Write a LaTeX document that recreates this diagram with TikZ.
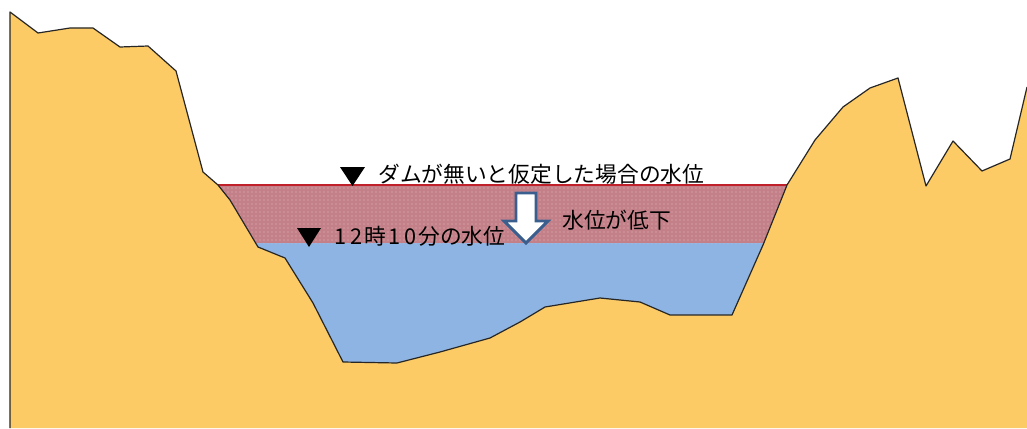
\documentclass[tikz,border=0pt]{standalone}
\usepackage{fontspec}
\newfontfamily\jpfont{Noto Sans CJK JP}
\usetikzlibrary{patterns}
\definecolor{ground}{HTML}{FCCB66}
\definecolor{lake}{HTML}{8DB4E2}
\definecolor{drop}{HTML}{C48088}
\definecolor{rim}{HTML}{C0202A}
\definecolor{arrowblue}{HTML}{3A5F8F}
% digits set on a slightly wider pitch
\newcommand\widedigit[1]{\makebox[0.74em]{#1}}
\begin{document}
\begin{tikzpicture}[x=0.75pt,y=-0.75pt,
  jplabel/.style={font=\jpfont\fontsize{16.3}{19}\selectfont, inner sep=0pt, text=black},
  levelmark/.style={fill=black},
  outline/.style={draw=black!85, line width=0.9pt, line join=round}]
\useasboundingbox (0,0) rectangle (1027,428);
% present reservoir water
\fill[lake] (200,243) rectangle (800,380);
% water lost compared with the no-dam level
\fill[drop] (200,185) rectangle (800,243);
\fill[pattern=dots, pattern color=white!45!drop] (200,185) rectangle (800,243);
\draw[rim, line width=1.4pt] (200,185) -- (800,185);
% valley cross-section
\def\valley{(10,428) -- (10,12) -- (38,33) -- (70,28) -- (93,28) -- (120,47) -- (148,46)
  -- (176,71) -- (203,172) -- (218,185) -- (230,200) -- (258,247) -- (285,258)
  -- (313,303) -- (343,362) -- (397,363) -- (440,352) -- (490,338) -- (520,322)
  -- (545,307) -- (600,298) -- (640,302) -- (670,315) -- (732,315) -- (763,245)
  -- (787,185) -- (815,140) -- (843,107) -- (870,88) -- (898,78) -- (926,186)
  -- (953,141) -- (982,171) -- (1010,159) -- (1027,87)}
\fill[ground] \valley -- (1027,428) -- cycle;
\draw[outline] \valley;
% water level markers
\fill[levelmark] (340,167) -- (365,167) -- (352.5,186) -- cycle;
\fill[levelmark] (297,228) -- (321,228) -- (309,247) -- cycle;
% downward arrow
\draw[arrowblue, fill=white, line width=2.2pt, line join=miter]
  (516,193) -- (536,193) -- (536,221) -- (548,221) -- (526,243) -- (504,221) -- (516,221) -- cycle;
% labels
\node[jplabel, anchor=west] (nodam) at (378,174) {ダムが無いと仮定した場合の水位};
\node[jplabel, anchor=west] (now) at (332,236) {\widedigit{1}\widedigit{2}時\widedigit{1}\widedigit{0}分の水位};
\node[jplabel, anchor=west] (fall) at (562,220) {水位が低下};
\end{tikzpicture}
\end{document}
